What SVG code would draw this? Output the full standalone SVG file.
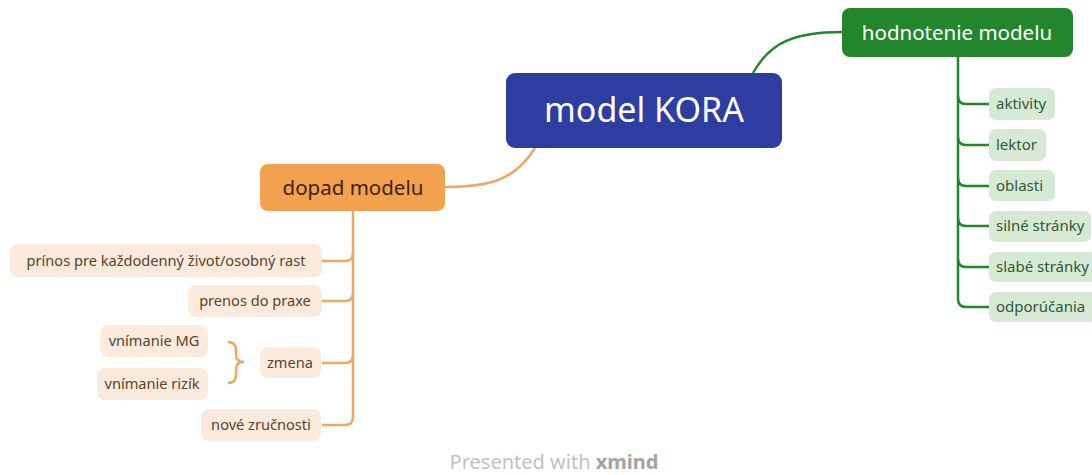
<svg xmlns="http://www.w3.org/2000/svg" width="1092" height="475" viewBox="0 0 1092 475">
<style>
text{font-family:"Noto Sans","Open Sans","DejaVu Sans",sans-serif}
.g{fill:none;stroke:#23862c;stroke-width:2.5}
.o{fill:none;stroke:#eda866;stroke-width:2.5}
.gc{fill:#d6e9d5}
.gt{fill:#2f5a35;font-size:15px}
.oc{fill:#fcebdc}
.ot{fill:#5b3f2c;font-size:14.6px;text-anchor:middle}
</style>
<rect width="1092" height="475" fill="#ffffff"/>
<g id="connectors">
<path class="g" d="M753,73 C770,42 795,32 842,32"/>
<path class="o" d="M535,148 C515,180 490,187 445,187"/>
<path class="g" d="M958,57 V299 Q958,307 966,307 H989"/>
<path class="g" d="M958,96 Q958,104 966,104 H989"/>
<path class="g" d="M958,137 Q958,145 966,145 H989"/>
<path class="g" d="M958,178 Q958,186 966,186 H989"/>
<path class="g" d="M958,218 Q958,226 966,226 H989"/>
<path class="g" d="M958,259 Q958,267 966,267 H989"/>
<path class="o" d="M353,211 V417 Q353,425 345,425 H322"/>
<path class="o" d="M353,253 Q353,261 345,261 H322"/>
<path class="o" d="M353,293 Q353,301 345,301 H322"/>
<path class="o" d="M353,355 Q353,363 345,363 H322"/>
<path class="o" d="M228,342 Q236,342 236,350 V355 Q236,362 244,362 Q236,362 236,369 V375 Q236,383 228,383"/>
</g>
<g id="root">
<rect x="506" y="73" width="276" height="75" rx="9" fill="#2d3da0"/>
<text x="644" y="122" font-size="34" fill="#ffffff" text-anchor="middle">model KORA</text>
</g>
<g id="hodnotenie">
<rect x="842" y="8" width="231" height="49" rx="8" fill="#23862c"/>
<text x="957" y="40" font-size="20.5" fill="#ffffff" text-anchor="middle">hodnotenie modelu</text>
</g>
<g id="aktivity"><rect class="gc" x="989" y="88" width="66" height="32" rx="7"/><text class="gt" x="996" y="109">aktivity</text></g>
<g id="lektor"><rect class="gc" x="989" y="129" width="57" height="32" rx="7"/><text class="gt" x="996" y="150">lektor</text></g>
<g id="oblasti"><rect class="gc" x="989" y="170" width="66" height="31" rx="7"/><text class="gt" x="996" y="191">oblasti</text></g>
<g id="silne"><rect class="gc" x="989" y="211" width="102" height="31" rx="7"/><text class="gt" x="996" y="231">silné stránky</text></g>
<g id="slabe"><rect class="gc" x="989" y="252" width="108" height="30" rx="7"/><text class="gt" x="996" y="272">slabé stránky</text></g>
<g id="odporucania"><rect class="gc" x="989" y="292" width="108" height="30" rx="7"/><text class="gt" x="996" y="312">odporúčania</text></g>
<g id="dopad">
<rect x="260" y="164" width="185" height="47" rx="8" fill="#f2a14e"/>
<text x="353" y="195" font-size="20.5" fill="#3b2314" text-anchor="middle">dopad modelu</text>
</g>
<g id="prinos"><rect class="oc" x="10" y="244" width="312" height="33" rx="8"/><text class="ot" x="166" y="266">prínos pre každodenný život/osobný rast</text></g>
<g id="prenos"><rect class="oc" x="188" y="285" width="134" height="32" rx="8"/><text class="ot" x="255" y="306">prenos do praxe</text></g>
<g id="zmena"><rect class="oc" x="260" y="347" width="61" height="31" rx="8"/><text class="ot" x="290" y="368">zmena</text></g>
<g id="vnimanieMG"><rect class="oc" x="100" y="325" width="108" height="32" rx="8"/><text class="ot" x="154" y="346">vnímanie MG</text></g>
<g id="vnimanieRizik"><rect class="oc" x="97" y="368" width="111" height="32" rx="8"/><text class="ot" x="152" y="389">vnímanie rizík</text></g>
<g id="nove"><rect class="oc" x="201" y="409" width="120" height="32" rx="8"/><text class="ot" x="261" y="430">nové zručnosti</text></g>
<g id="footer">
<text x="554" y="469" font-size="20" text-anchor="middle" fill="#c2c2c2">Presented with <tspan font-weight="bold" fill="#a3a3a3">xmind</tspan></text>
</g>
</svg>
